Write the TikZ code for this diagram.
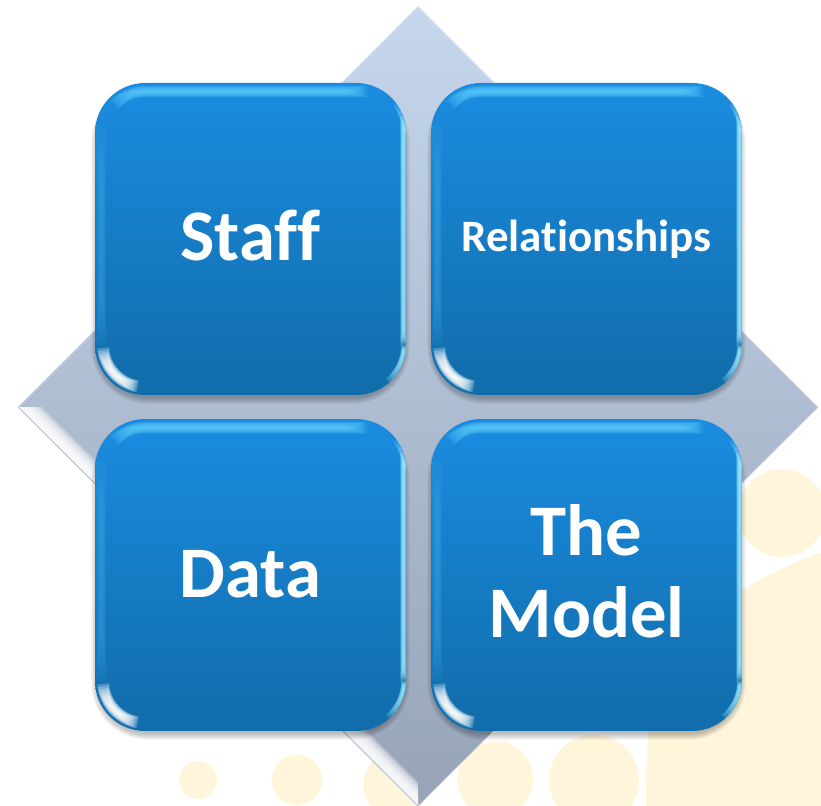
\documentclass[tikz,border=0pt]{standalone}
\usepackage{fontspec}
\setmainfont{Carlito}[Ligatures=NoCommon]
\definecolor{beige}{HTML}{FEF5DA}
\definecolor{boxtop}{HTML}{1A8CE0}
\definecolor{boxbot}{HTML}{116CAA}
\definecolor{diatop}{HTML}{C6D6EC}
\definecolor{diabot}{HTML}{97A4B7}
\definecolor{glowblue}{HTML}{62D2FF}
\definecolor{glowside}{HTML}{45AEF0}
\definecolor{glowcyan}{HTML}{A6F0FF}
\tikzset{
  glossbox/.style={rectangle,rounded corners=37.5pt,minimum width=233.25pt,minimum height=234pt,
    inner sep=0pt,top color=boxtop,bottom color=boxbot,text=white,align=center,
    font=\bfseries\fontsize{54.5}{61.5}\selectfont},
  smalltext/.style={font=\bfseries\fontsize{33.7}{40}\selectfont},
}
\newcommand{\boxshadow}[2]{%
  \begin{scope}[shift={(#1,#2)}]
    \foreach \i in {1,...,8}{
      \draw[black,opacity=.035,line width=\i*1.3pt,rounded corners=37.5pt]
        (3,9) rectangle (308,314);
    }
  \end{scope}}
\newcommand{\boxgloss}[2]{%
  \begin{scope}[shift={(#1,#2)}]
    \clip[rounded corners=37.5pt] (0,0) rectangle (311,312);
    % top stripe: follows the corner, tapering to both ends
    \foreach \i in {0,...,11}{
      \pgfmathsetmacro\tw{(12-\i)*0.75}
      \pgfmathsetmacro\sa{222+\i*3.5}
      \pgfmathsetmacro\eb{272-\i*2}
      \draw[glowblue,opacity=.13,line width=\tw pt]
        plot[domain=\sa:270,samples=10,smooth] ({50+41.5*cos(\x)},{50+41.5*sin(\x)})
        -- (\eb,8.5);
    }
    % left stripe
    \foreach \i in {0,...,7}{
      \pgfmathsetmacro\tw{(10-\i)*0.75}
      \draw[glowside,opacity=.07,line width=\tw pt] (6,{42+\i*6}) -- (6,{262-\i*6});
    }
    % right stripe
    \foreach \i in {0,...,7}{
      \pgfmathsetmacro\tw{(6.5-\i*.8)*0.75}
      \draw[glowcyan,opacity=.22,line width=\tw pt] (308.5,{34+\i*3}) -- (308.5,{262-\i*2});
    }
    % top-right corner edge
    \foreach \i in {0,...,5}{
      \pgfmathsetmacro\tw{(4-\i*.6)*0.75}
      \draw[glowcyan,opacity=.16,line width=\tw pt]
        plot[domain={-36+\i*5}:0,samples=10,smooth] ({261+48*cos(\x)},{50+48*sin(\x)});
    }
    % bottom-right arc
    \foreach \i in {0,...,7}{
      \pgfmathsetmacro\tw{(6-\i*.7)*0.75}
      \draw[glowcyan,opacity=.22,line width=\tw pt]
        plot[domain={\i*1}:{48-\i*5},samples=12,smooth] ({261+48*cos(\x)},{262+48*sin(\x)});
    }
    % bottom-left arc
    \foreach \i in {0,...,11}{
      \pgfmathsetmacro\tw{(12-\i)*0.75}
      \draw[white,opacity=.24,line width=\tw pt]
        plot[domain={176-\i*3.2}:{100+\i*2.6},samples=14,smooth] ({50+42*cos(\x)},{262+42*sin(\x)});
    }
  \end{scope}}
\begin{document}
\begin{tikzpicture}[x=0.75pt,y=-0.75pt]
  \useasboundingbox (0,0) rectangle (821,806);
  \begin{scope}
    \clip (0,0) rectangle (821,806);
    % background motif
    \fill[beige] (198,780) circle[radius=14.25pt];
    \fill[beige] (297,780) circle[radius=19pt];
    \fill[beige] (396,785) circle[radius=24.5pt];
    \fill[beige] (495,779) circle[radius=28.5pt];
    \fill[beige] (594,780) circle[radius=33.75pt];
    \fill[beige] (782,513) circle[radius=33pt];
    \fill[beige] (646,806) .. controls (646,760) and (648,720) .. (656,680)
      .. controls (680,630) and (740,580) .. (821,553) -- (821,806) -- cycle;
    % diamond
    \path[top color=diatop,bottom color=diabot] (418,6) -- (818,407) -- (418,806) -- (18,407) -- cycle;
    \begin{scope}
      \clip (418,6) -- (818,407) -- (418,806) -- (18,407) -- cycle;
      \foreach \i in {1,...,10}{
        \fill[white,opacity=.22] (18,407) -- (418,806) -- (418,{806-6-\i*1.8}) -- ({18+6+\i*1.8},407) -- cycle;
      }
      \draw[white,opacity=.3,line width=1.5pt] (18,407) -- (418,6) -- (818,407);
    \end{scope}
    \draw[diabot!70!white,line width=.7pt] (18,407) -- (418,806);
    \draw[diabot!60!white,line width=.4pt] (418,806) -- (818,407);
  \end{scope}
  % boxes
  \boxshadow{95}{83}
  \boxshadow{431}{83}
  \boxshadow{95}{419}
  \boxshadow{431}{419}
  \node[glossbox] (staff) at (250.5,239) {\raisebox{-15.75pt}[0pt][0pt]{Staff}};
  \node[glossbox,smalltext] (rel) at (586.5,239) {\raisebox{-9pt}[0pt][0pt]{Relationships}};
  \node[glossbox] (data) at (250.5,575) {\raisebox{-16.5pt}[0pt][0pt]{Data}};
  \node[glossbox] (model) at (586.5,575) {\raisebox{15pt}[0pt][0pt]{\begin{tabular}[t]{@{}c@{}}The\\Model\end{tabular}}};
  \boxgloss{95}{83}
  \boxgloss{431}{83}
  \boxgloss{95}{419}
  \boxgloss{431}{419}
\end{tikzpicture}
\end{document}
